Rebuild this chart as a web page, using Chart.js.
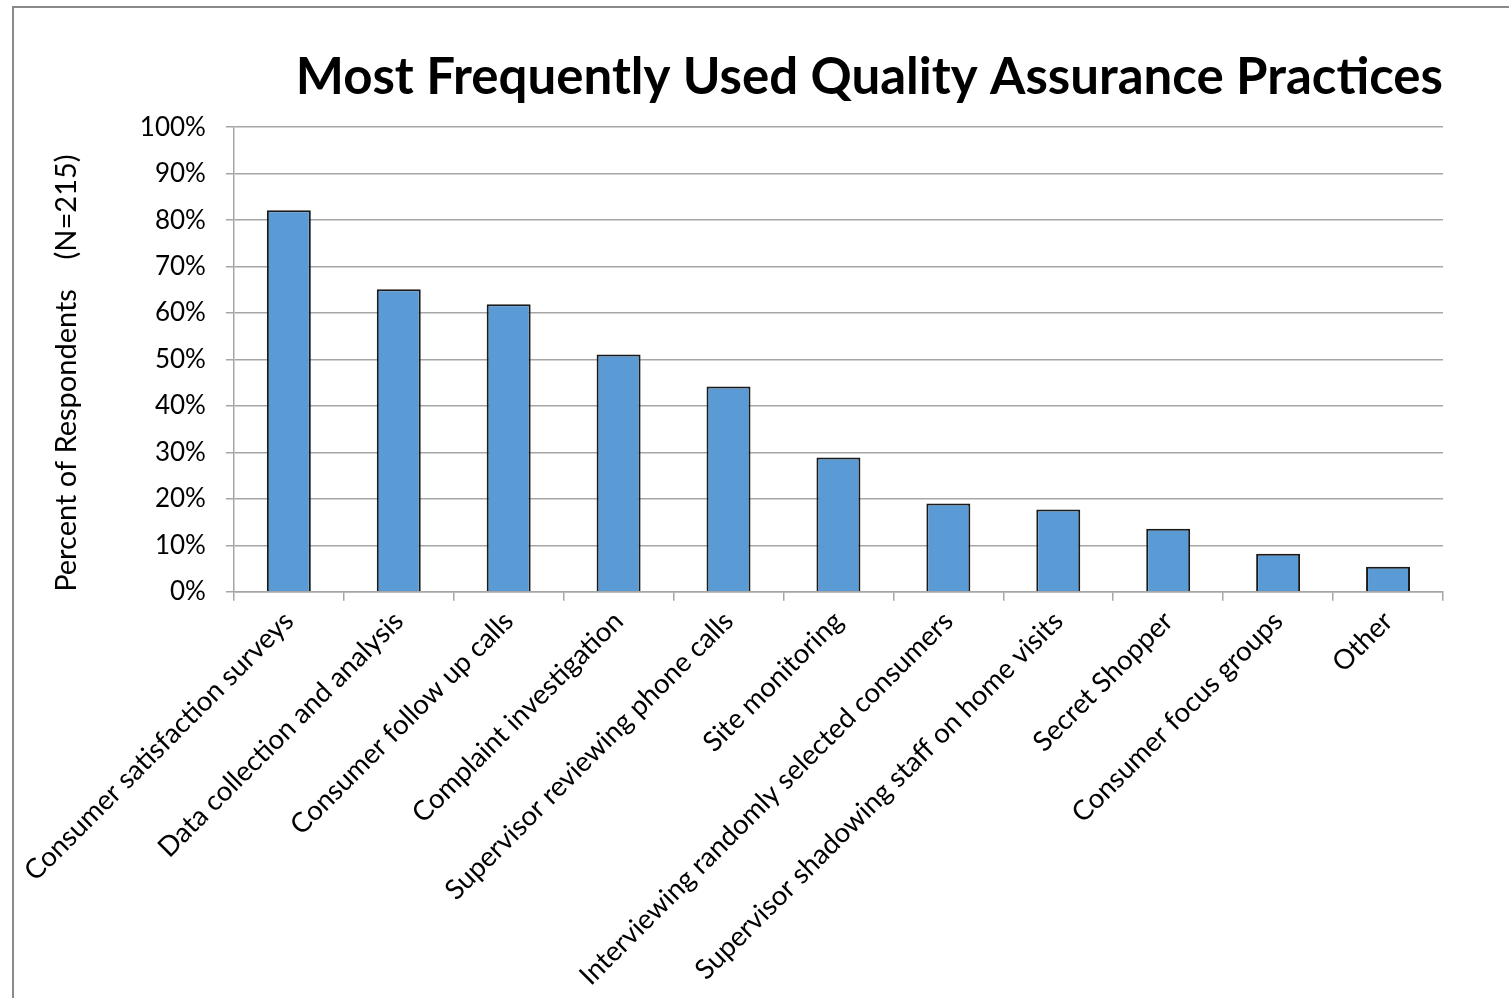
<!DOCTYPE html>
<html>
<head>
<meta charset="utf-8">
<script src="https://cdn.jsdelivr.net/npm/chart.js@4/dist/chart.umd.min.js"></script>
<style>
  html, body { margin: 0; padding: 0; background: #fff; }
  #frame {
    position: absolute; left: 12px; top: 6px;
    width: 1497px; height: 992px;
    border-top: 2px solid #8a8a8a; border-left: 2px solid #8a8a8a;
    box-sizing: border-box;
  }
  #wrap { position: absolute; left: 0; top: 0; right: 0; bottom: 0; }
</style>
</head>
<body>
<div id="frame"><div id="wrap"><canvas id="c"></canvas></div></div>
<script>
// Quality assurance practices and share of respondents using each (percent)
const practices = [
  "Consumer satisfaction surveys",
  "Data collection and analysis",
  "Consumer follow up calls",
  "Complaint investigation",
  "Supervisor reviewing phone calls",
  "Site monitoring",
  "Interviewing randomly selected consumers",
  "Supervisor shadowing staff on home visits",
  "Secret Shopper",
  "Consumer focus groups",
  "Other"
];
const percentRespondents = [82.1, 65.1, 61.9, 51.1, 44.2, 28.9, 19.0, 17.7, 13.6, 8.2, 5.4];
const yTicks = { min: 0, max: 100, step: 10 };

const FONT = "Lato, 'Open Sans', sans-serif";
const gridGray = "#a6a6a6";

new Chart(document.getElementById("c"), {
  type: "bar",
  data: {
    labels: practices,
    datasets: [{
      data: percentRespondents,
      backgroundColor: "#5b9bd5",
      borderColor: "#1a1a1a",
      borderWidth: 2,
      barPercentage: 0.4,
      categoryPercentage: 1.0
    }]
  },
  options: {
    responsive: true,
    maintainAspectRatio: false,
    animation: false,
    layout: { padding: { left: 35, right: 66, top: 20, bottom: 2 } },
    plugins: {
      legend: { display: false },
      tooltip: { enabled: false },
      title: {
        display: true,
        text: "Most Frequently Used Quality Assurance Practices",
        align: "end",
        color: "#000",
        font: { family: FONT, size: 51, weight: "bold" },
        padding: { top: 19, bottom: 19 }
      }
    },
    scales: {
      x: {
        offset: true,
        grid: {
          offset: true,
          drawOnChartArea: false,
          drawTicks: true,
          tickLength: 9,
          color: gridGray,
          lineWidth: 1.5
        },
        border: { color: gridGray, width: 1.5 },
        ticks: {
          color: "#000",
          minRotation: 45,
          maxRotation: 45,
          autoSkip: false,
          padding: 4,
          font: { family: FONT, size: 27.5 }
        }
      },
      y: {
        min: yTicks.min,
        max: yTicks.max,
        grid: { color: gridGray, lineWidth: 1.5, tickLength: 8 },
        border: { color: gridGray, width: 1.5 },
        ticks: {
          stepSize: yTicks.step,
          color: "#000",
          padding: 20,
          font: { family: FONT, size: 26 },
          callback: v => v + "%"
        },
        title: {
          display: true,
          text: "Percent of Respondents    (N=215)",
          align: "start",
          color: "#000",
          font: { family: FONT, size: 29 },
          padding: { top: 0, bottom: 36 }
        }
      }
    }
  }
});
</script>
</body>
</html>
